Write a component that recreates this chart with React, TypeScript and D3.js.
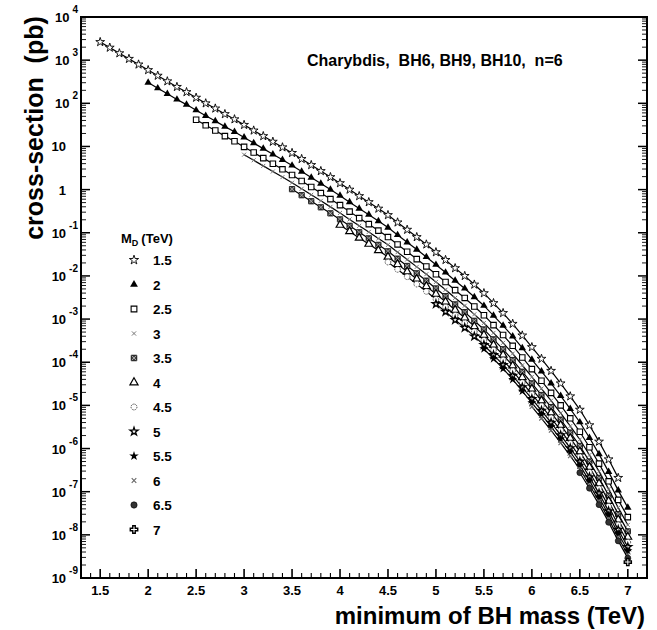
import React, { useRef, useEffect } from 'react';
import * as d3 from 'd3';

// M_D (TeV) of each series, as written in the legend
const mdLabels = ['1.5', '2', '2.5', '3', '3.5', '4', '4.5', '5', '5.5', '6', '6.5', '7'];
// first minimum-BH-mass point of each series (TeV); points every 0.1 TeV
const firstMass = [1.5, 2.0, 2.5, 3.0, 3.5, 4.0, 4.5, 5.0, 5.5, 6.0, 6.5, 7.0];

// log10 of cross-section (pb)
const logSigma15 = [
  3.42, 3.29, 3.16, 3.03, 2.90, 2.77, 2.64, 2.51, 2.38, 2.26,
  2.13, 2.00, 1.88, 1.75, 1.63, 1.50, 1.37, 1.24, 1.11, 0.98,
  0.85, 0.71, 0.57, 0.43, 0.29, 0.15, 0.00, -0.15, -0.29, -0.44,
  -0.59, -0.76, -0.93, -1.10, -1.27, -1.45, -1.63, -1.82, -2.00, -2.20,
  -2.40, -2.63, -2.86, -3.11, -3.38, -3.65, -3.92, -4.20, -4.49, -4.79,
  -5.10, -5.46, -5.84, -6.25, -6.68,
];
const logSigma20 = [
  2.48, 2.35, 2.22, 2.09, 1.97, 1.84, 1.71, 1.59, 1.46, 1.34,
  1.21, 1.08, 0.95, 0.82, 0.69, 0.56, 0.42, 0.28, 0.14, 0.00,
  -0.14, -0.29, -0.44, -0.58, -0.73, -0.88, -1.05, -1.22, -1.39, -1.56,
  -1.74, -1.92, -2.11, -2.29, -2.49, -2.69, -2.92, -3.15, -3.40, -3.67,
  -3.94, -4.21, -4.49, -4.78, -5.08, -5.39, -5.75, -6.13, -6.54, -6.97,
  -7.37,
];
const logSigma25 = [
  1.62, 1.49, 1.37, 1.24, 1.12, 0.99, 0.86, 0.73, 0.60, 0.47,
  0.34, 0.20, 0.06, -0.08, -0.22, -0.36, -0.51, -0.66, -0.80, -0.95,
  -1.10, -1.27, -1.44, -1.61, -1.78, -1.96, -2.14, -2.33, -2.51, -2.71,
  -2.91, -3.14, -3.37, -3.62, -3.89, -4.16, -4.43, -4.71, -5.00, -5.30,
  -5.61, -5.97, -6.35, -6.76, -7.19, -7.59,
];
const logSigma30 = [
  0.81, 0.68, 0.55, 0.42, 0.29, 0.16, 0.02, -0.12, -0.26, -0.40,
  -0.54, -0.69, -0.84, -0.98, -1.13, -1.28, -1.45, -1.62, -1.79, -1.96,
  -2.14, -2.32, -2.51, -2.69, -2.89, -3.09, -3.32, -3.55, -3.80, -4.07,
  -4.34, -4.61, -4.89, -5.18, -5.48, -5.79, -6.15, -6.53, -6.94, -7.37,
  -7.77,
];
const logSigma35 = [
  0.01, -0.13, -0.27, -0.41, -0.55, -0.69, -0.84, -0.99, -1.13, -1.28,
  -1.43, -1.60, -1.77, -1.94, -2.11, -2.29, -2.47, -2.66, -2.84, -3.04,
  -3.24, -3.47, -3.70, -3.95, -4.22, -4.49, -4.76, -5.04, -5.33, -5.63,
  -5.94, -6.30, -6.68, -7.09, -7.52, -7.92,
];
const logSigma40 = [
  -0.82, -0.97, -1.12, -1.26, -1.41, -1.56, -1.73, -1.90, -2.07, -2.24,
  -2.42, -2.60, -2.79, -2.97, -3.17, -3.37, -3.60, -3.83, -4.08, -4.35,
  -4.62, -4.89, -5.17, -5.46, -5.76, -6.07, -6.43, -6.81, -7.22, -7.65,
  -8.05,
];
const logSigma45 = [
  -1.68, -1.85, -2.02, -2.19, -2.36, -2.54, -2.72, -2.91, -3.09, -3.29,
  -3.49, -3.72, -3.95, -4.20, -4.47, -4.74, -5.01, -5.29, -5.58, -5.88,
  -6.19, -6.55, -6.93, -7.34, -7.77, -8.17,
];
const logSigma50 = [
  -2.65, -2.83, -3.02, -3.20, -3.40, -3.60, -3.83, -4.06, -4.31, -4.58,
  -4.85, -5.12, -5.40, -5.69, -5.99, -6.30, -6.66, -7.04, -7.45, -7.88,
  -8.28,
];
const logSigma55 = [
  -3.69, -3.92, -4.15, -4.40, -4.67, -4.94, -5.21, -5.49, -5.78, -6.08,
  -6.39, -6.75, -7.13, -7.54, -7.97, -8.37,
];
const logSigma60 = [-5.03, -5.30, -5.58, -5.87, -6.17, -6.48, -6.84, -7.22, -7.63, -8.06, -8.46];
const logSigma65 = [-6.56, -6.92, -7.30, -7.71, -8.14, -8.54];
const logSigma70 = [-8.63];

const allSeries = [
  logSigma15, logSigma20, logSigma25, logSigma30, logSigma35, logSigma40,
  logSigma45, logSigma50, logSigma55, logSigma60, logSigma65, logSigma70,
];

// axis ticks
const xMajorTicks = [1.5, 2, 2.5, 3, 3.5, 4, 4.5, 5, 5.5, 6, 6.5, 7];
const yDecades = [-9, -8, -7, -6, -5, -4, -3, -2, -1, 0, 1, 2, 3, 4];

const markerKinds = [
  'openStar', 'triangle', 'openSquare', 'asterisk', 'xSquare', 'openTriangle',
  'openCircle', 'boldStar', 'filledStar', 'times', 'dot', 'openCross',
];

const FONT = "'Liberation Sans', Arial, sans-serif";

function drawMarker(g: any, kind: string, cx: number, cy: number, k = 1) {
  const t = `translate(${cx},${cy})`;
  const sym = (type: any, size: number) => d3.symbol().type(type).size(size * k * k)();
  switch (kind) {
    case 'openStar':
      g.append('path').attr('d', sym(d3.symbolStar, 24)).attr('transform', t)
        .attr('fill', '#fff').attr('stroke', '#000').attr('stroke-width', 0.9);
      break;
    case 'triangle':
      g.append('path').attr('d', sym(d3.symbolTriangle, 24)).attr('transform', t).attr('fill', '#000');
      break;
    case 'openSquare':
      g.append('path').attr('d', sym(d3.symbolSquare, 30)).attr('transform', t)
        .attr('fill', '#fff').attr('stroke', '#000').attr('stroke-width', 1.1);
      break;
    case 'asterisk':
      g.append('path').attr('d', sym(d3.symbolTimes, 12)).attr('transform', t)
        .attr('fill', 'none').attr('stroke', '#777').attr('stroke-width', 1);
      break;
    case 'xSquare':
      g.append('path').attr('d', sym(d3.symbolSquare, 28)).attr('transform', t)
        .attr('fill', '#444').attr('stroke', '#000').attr('stroke-width', 0.8);
      g.append('path').attr('d', sym(d3.symbolTimes, 14)).attr('transform', t)
        .attr('fill', 'none').attr('stroke', '#bbb').attr('stroke-width', 0.8);
      break;
    case 'openTriangle':
      g.append('path').attr('d', sym(d3.symbolTriangle, 26)).attr('transform', t)
        .attr('fill', '#fff').attr('stroke', '#000').attr('stroke-width', 1.2);
      break;
    case 'openCircle':
      g.append('circle').attr('cx', cx).attr('cy', cy).attr('r', 2.8 * k)
        .attr('fill', '#fff').attr('stroke', '#444').attr('stroke-width', 1)
        .attr('stroke-dasharray', '1.2,0.8');
      break;
    case 'boldStar':
      g.append('path').attr('d', sym(d3.symbolStar, 18)).attr('transform', t)
        .attr('fill', '#fff').attr('stroke', '#000').attr('stroke-width', 1.3);
      break;
    case 'filledStar':
      g.append('path').attr('d', sym(d3.symbolStar, 26)).attr('transform', t).attr('fill', '#000');
      break;
    case 'times':
      g.append('path').attr('d', sym(d3.symbolTimes, 14)).attr('transform', t)
        .attr('fill', 'none').attr('stroke', '#666').attr('stroke-width', 1.1);
      break;
    case 'dot':
      g.append('circle').attr('cx', cx).attr('cy', cy).attr('r', 3 * k)
        .attr('fill', '#333').attr('stroke', '#000').attr('stroke-width', 0.6);
      break;
    case 'openCross':
      g.append('path').attr('d', sym(d3.symbolCross, 28)).attr('transform', t)
        .attr('fill', '#fff').attr('stroke', '#000').attr('stroke-width', 1.4);
      break;
  }
}

const CrossSectionChart = () => {
  const svgRef = useRef<SVGSVGElement>(null);

  useEffect(() => {
    const svg = d3.select(svgRef.current);
    svg.selectAll('*').remove();

    const left = 81, right = 647, top = 17, bottom = 578;

    const x = d3.scaleLinear().domain([1.3, 7.2]).range([left, right]);
    const y = d3.scaleLog().domain([1e-9, 1e4]).range([bottom, top]);

    svg.append('rect').attr('width', 657).attr('height', 630).attr('fill', '#fff');

    // ticks
    const ticks = svg.append('g').attr('stroke', '#000');
    d3.range(13, 72).forEach(i => {
      const v = i / 10;
      const major = Math.abs(v * 2 - Math.round(v * 2)) < 1e-6 && v >= 1.5;
      const len = major ? 9 : 5;
      ticks.append('line').attr('x1', x(v)).attr('x2', x(v))
        .attr('y1', bottom).attr('y2', bottom - len).attr('stroke-width', major ? 1.6 : 1.1);
    });
    yDecades.forEach(k => {
      const v = Math.pow(10, k);
      [left, right].forEach((ax, side) => {
        const dir = side === 0 ? 1 : -1;
        ticks.append('line').attr('x1', ax).attr('x2', ax + dir * 9)
          .attr('y1', y(v)).attr('y2', y(v)).attr('stroke-width', 1.5);
        if (k < 4) {
          d3.range(2, 10).forEach(m => {
            ticks.append('line').attr('x1', ax).attr('x2', ax + dir * 5)
              .attr('y1', y(m * v)).attr('y2', y(m * v)).attr('stroke-width', 0.9);
          });
        }
      });
    });

    // frame
    svg.append('rect').attr('x', left).attr('y', top)
      .attr('width', right - left).attr('height', bottom - top)
      .attr('fill', 'none').attr('stroke', '#000').attr('stroke-width', 2);

    // x tick labels
    svg.append('g').selectAll('text').data(xMajorTicks).join('text')
      .attr('x', d => x(d)).attr('y', 595)
      .attr('text-anchor', 'middle')
      .attr('font-family', FONT).attr('font-weight', 'bold').attr('font-size', 13)
      .text(d => String(d));

    // y tick labels
    const yl = svg.append('g').attr('font-family', FONT).attr('font-weight', 'bold');
    yDecades.forEach(k => {
      const py = y(Math.pow(10, k));
      if (k === 0 || k === 1) {
        yl.append('text').attr('x', 66).attr('y', py + 5).attr('text-anchor', 'end')
          .attr('font-size', 13).text(k === 0 ? '1' : '10');
      } else {
        const t = yl.append('text').attr('x', 78).attr('y', py + 5).attr('text-anchor', 'end')
          .attr('font-size', 13);
        t.append('tspan').text('10');
        t.append('tspan').attr('dx', 3).attr('dy', -9).attr('font-size', 10).text(String(k));
      }
    });

    // axis titles
    svg.append('text')
      .attr('transform', 'translate(43,128) rotate(-90)')
      .attr('text-anchor', 'middle')
      .attr('font-family', FONT).attr('font-weight', 'bold').attr('font-size', 25)
      .attr('xml:space', 'preserve').style('white-space', 'pre')
      .text('cross-section  (pb)');
    svg.append('text')
      .attr('x', 645).attr('y', 624).attr('text-anchor', 'end')
      .attr('font-family', FONT).attr('font-weight', 'bold').attr('font-size', 24)
      .text('minimum of BH mass (TeV)');

    // title
    svg.append('text')
      .attr('x', 307).attr('y', 66)
      .attr('font-family', FONT).attr('font-weight', 'bold').attr('font-size', 16)
      .style('white-space', 'pre')
      .text('Charybdis,  BH6, BH9, BH10,  n=6');

    // curves
    const line = d3.line<{ m: number; s: number }>()
      .x(d => x(d.m))
      .y(d => y(d.s));

    const plot = svg.append('g');
    allSeries.forEach((vals, si) => {
      const pts = vals.map((lv, i) => ({
        m: +(firstMass[si] + i * 0.1).toFixed(1),
        s: Math.pow(10, lv),
      }));
      if (pts.length > 1) {
        plot.append('path').datum(pts)
          .attr('fill', 'none').attr('stroke', '#000').attr('stroke-width', 1.2)
          .attr('d', line);
      }
      pts.forEach(p => drawMarker(plot, markerKinds[si], x(p.m), y(p.s)));
    });

    // legend
    const lg = svg.append('g').attr('font-family', FONT).attr('font-weight', 'bold');
    const head = lg.append('text').attr('x', 121).attr('y', 243).attr('font-size', 13);
    head.append('tspan').text('M');
    head.append('tspan').attr('dy', 3).attr('font-size', 9).text('D');
    head.append('tspan').attr('dy', -3).attr('dx', 3).text('(TeV)');
    mdLabels.forEach((lab, i) => {
      const ly = 260 + i * 24.5;
      drawMarker(lg, markerKinds[i], 134, ly, 1.05);
      lg.append('text').attr('x', 153).attr('y', ly + 5).attr('font-size', 13.5).text(lab);
    });
  }, []);

  return (
    <svg ref={svgRef} width={657} height={630}
      style={{ position: 'absolute', left: 0, top: 0, display: 'block' }} />
  );
};

export default function App() {
  return <CrossSectionChart />;
}
